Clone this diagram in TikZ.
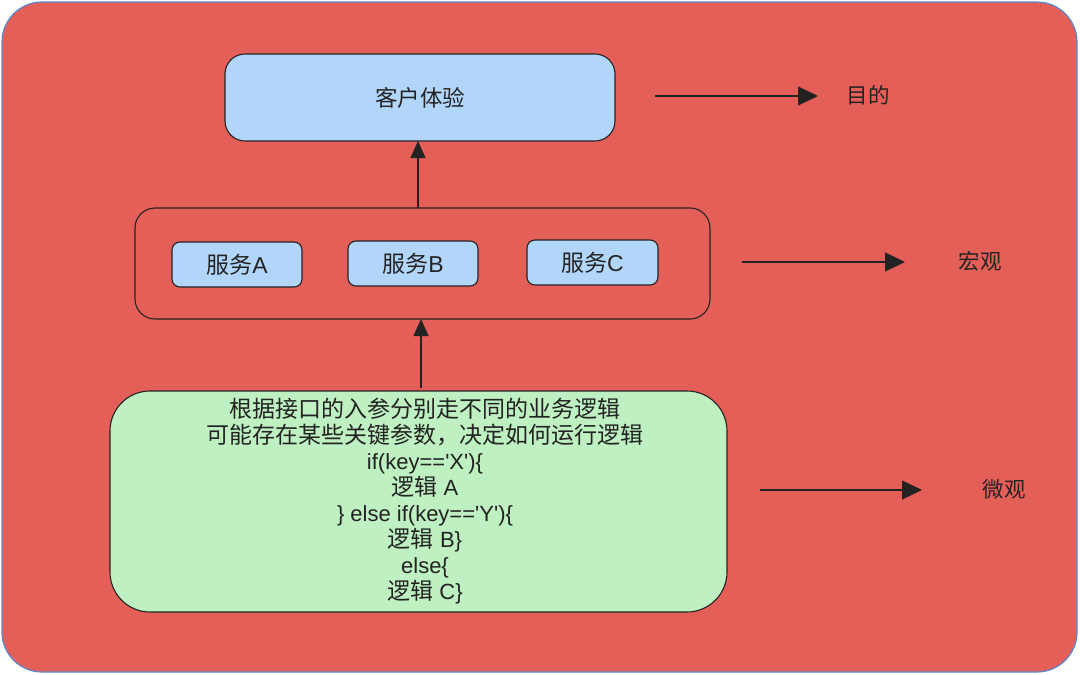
\documentclass[tikz,border=0pt]{standalone}
\usepackage{fontspec}
\setmainfont{Liberation Sans}
\newfontfamily\cjk{Noto Sans CJK SC}
\usetikzlibrary{arrows.meta}
\definecolor{bgred}{RGB}{229,95,89}
\definecolor{lblue}{RGB}{178,214,249}
\definecolor{lgreen}{RGB}{190,240,193}
\definecolor{frameblue}{RGB}{90,135,205}
\definecolor{ink}{RGB}{35,35,35}
\newcommand{\sq}{\textquotesingle}
\newcommand{\zh}[1]{{\cjk\fontsize{23}{25.9}\selectfont #1}}
\tikzset{
  box/.style={draw=ink, line width=1.1pt, rounded corners=#1, inner sep=0pt},
  conn/.style={draw=ink, line width=1.2pt, -{Triangle[length=20pt,width=19pt]}},
  vconn/.style={draw=ink, line width=1.2pt, -{Triangle[length=17pt,width=15pt]}},
  lbl/.style={font=\cjk\fontsize{21.5}{24}\selectfont, text=ink},
  svc/.style={box=8pt, fill=lblue, minimum height=45pt, font=\fontsize{23}{25}\selectfont, text=ink},
}
\begin{document}
\begin{tikzpicture}[x=1pt,y=-1pt]
\useasboundingbox (0,0) rectangle (1080,675);
\draw[fill=bgred, draw=frameblue, line width=1.2pt, rounded corners=40pt] (2,2) rectangle (1077,672);
% top box
\draw[box=20pt, fill=lblue] (225,54) rectangle (615,141);
\node[font=\cjk\fontsize{22.5}{24}\selectfont, text=ink] (top) at (420,98) {客户体验};
\coordinate (topS) at (418,141);
% middle container
\draw[box=20pt] (135,208) rectangle (710,319);
\coordinate (midN) at (418,208);
\coordinate (midS) at (421,319);
\node[svc, minimum width=130pt] (sa) at (237,264.5) {{\cjk 服务}A};
\node[svc, minimum width=130pt] (sb) at (413,263.5) {{\cjk 服务}B};
\node[svc, minimum width=131pt] (sc) at (592.5,262.5) {{\cjk 服务}C};
% bottom box
\draw[box=40pt, fill=lgreen] (110,391) rectangle (727,612);
\coordinate (botN) at (421,388);
\node[text=ink, align=center, font=\fontsize{22}{25.9}\selectfont] (code) at (425,501) {%
\zh{根据接口的入参分别走不同的业务逻辑}\\
\zh{可能存在某些关键参数，决定如何运行逻辑}\\
if(key==\sq X\sq){\{}\\
\zh{逻辑} A\\
{\}} else if(key==\sq Y\sq){\{}\\
\zh{逻辑} B{\}}\\
else{\{}\\
\zh{逻辑} C{\}}};
% vertical arrows
\draw[vconn] (midN) -- (topS);
\draw[vconn] (botN) -- (midS);
% side arrows and labels
\coordinate (a1) at (655,96);
\coordinate (e1) at (818,96);
\node[lbl] (l1) at (868,95) {目的};
\draw[conn] (a1) -- (e1);
\coordinate (a2) at (742,262);
\coordinate (e2) at (905,262);
\node[lbl] (l2) at (980,261) {宏观};
\draw[conn] (a2) -- (e2);
\coordinate (a3) at (760,490);
\coordinate (e3) at (922,490);
\node[lbl] (l3) at (1004,489) {微观};
\draw[conn] (a3) -- (e3);
\end{tikzpicture}
\end{document}
